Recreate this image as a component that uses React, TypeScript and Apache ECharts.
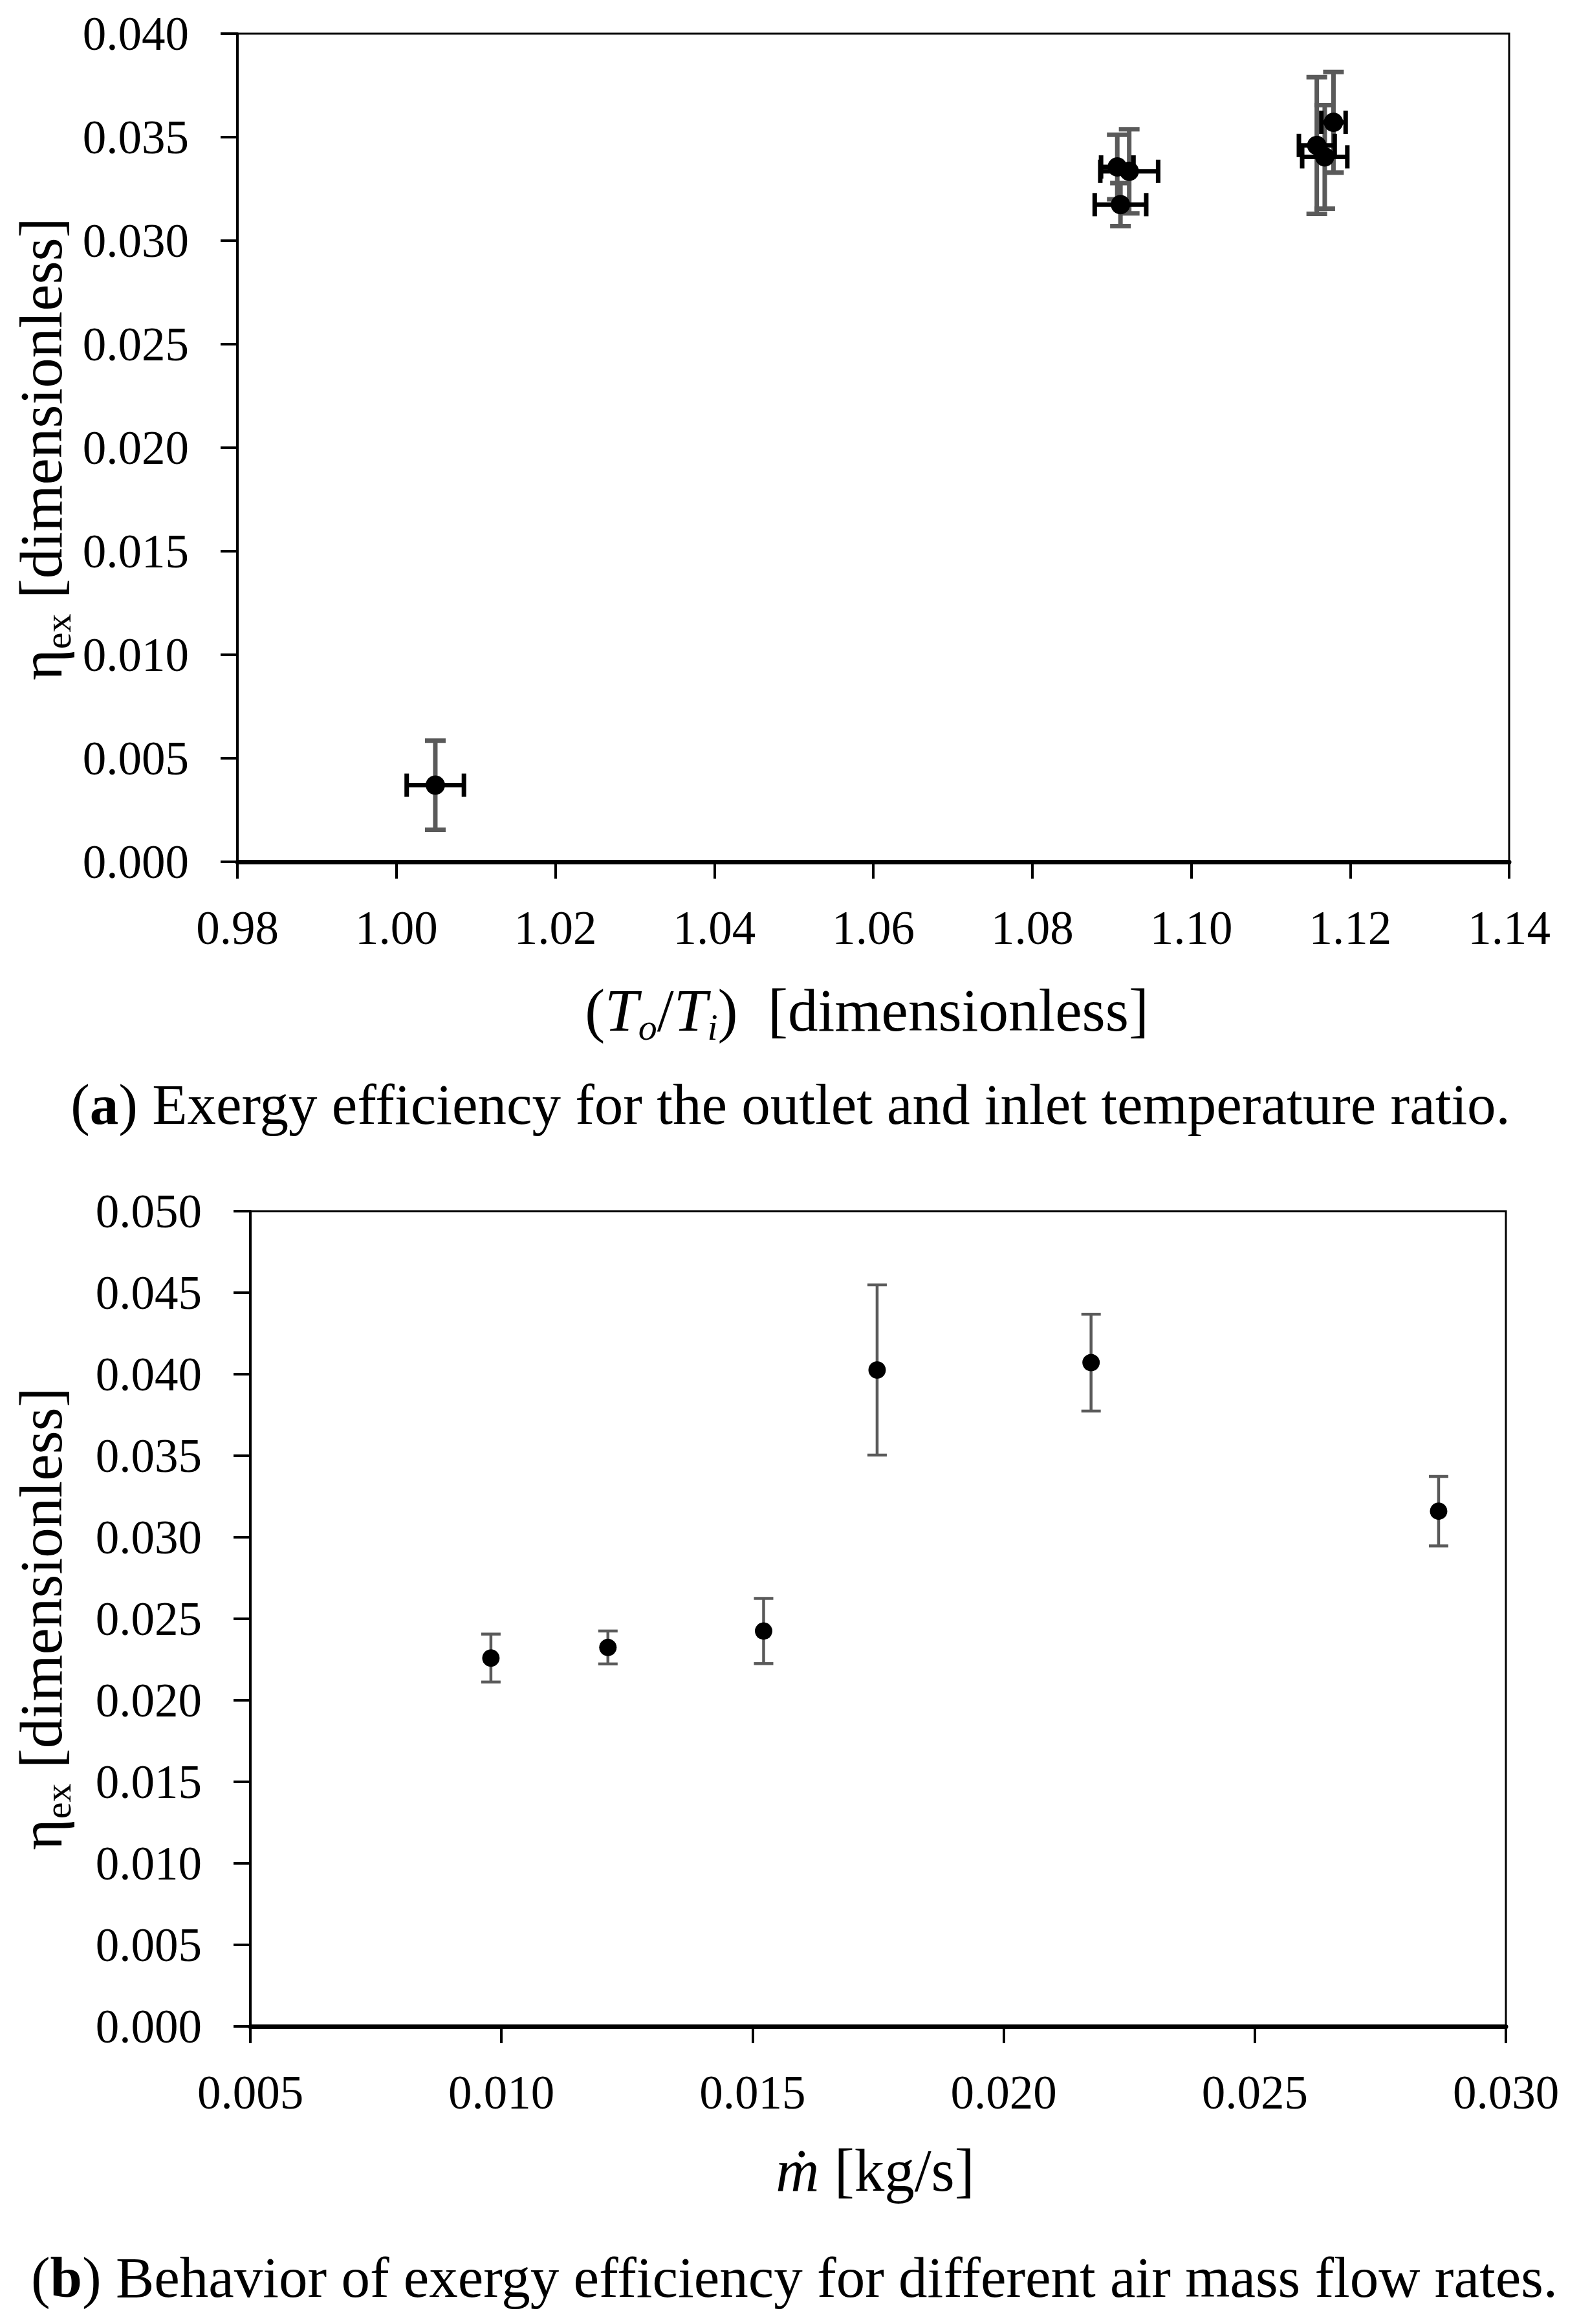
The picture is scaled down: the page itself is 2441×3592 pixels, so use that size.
import React, { useEffect, useRef } from "react";
import * as echarts from "echarts";

// ---------- Data: chart (a) ----------
const tempRatio = [1.0049, 1.0907, 1.0922, 1.0911, 1.1158, 1.1168, 1.1179];
const exergyEffA = [0.0037, 0.03356, 0.03335, 0.03174, 0.0346, 0.03405, 0.03572];
const exergyErrA = [0.00215, 0.00156, 0.00203, 0.00104, 0.0033, 0.0025, 0.00243];
const ratioErrA = [0.0036, 0.00204, 0.00364, 0.00324, 0.00225, 0.00284, 0.00153];

// ---------- Data: chart (b) ----------
const massFlow = [0.00979, 0.01212, 0.01522, 0.01748, 0.02174, 0.02866];
const exergyEffB = [0.02259, 0.02324, 0.02425, 0.04026, 0.04071, 0.0316];
const exergyErrB = [0.00147, 0.00101, 0.002, 0.00522, 0.00297, 0.00213];

// ---------- Axis settings ----------
const xTicksA = { min: 0.98, max: 1.14, interval: 0.02, digits: 2 };
const yTicksA = { min: 0, max: 0.04, interval: 0.005, digits: 3 };
const xTicksB = { min: 0.005, max: 0.03, interval: 0.005, digits: 3 };
const yTicksB = { min: 0, max: 0.05, interval: 0.005, digits: 3 };

const captionA = "(a) Exergy efficiency for the outlet and inlet temperature ratio.";
const captionB = "(b) Behavior of exergy efficiency for different air mass flow rates.";

const FONT = '"Liberation Serif", "Times New Roman", serif';
const GRAY = "#5a5a5a";

function vErrSeries(xi: number, xs: number[], ys: number[], es: number[], lw: number, cap: number) {
  return {
    type: "custom",
    xAxisIndex: xi,
    yAxisIndex: xi,
    z: 2,
    silent: true,
    encode: { x: 0, y: 1 },
    data: xs.map((x, i) => [x, ys[i], es[i]]),
    renderItem: (params: any, api: any) => {
      const x = api.value(0);
      const y = api.value(1);
      const e = api.value(2);
      const t = api.coord([x, y + e]);
      const b = api.coord([x, y - e]);
      const st = { stroke: GRAY, lineWidth: lw, lineCap: "butt" };
      return {
        type: "group",
        children: [
          { type: "line", shape: { x1: t[0], y1: t[1], x2: b[0], y2: b[1] }, style: st },
          { type: "line", shape: { x1: t[0] - cap, y1: t[1], x2: t[0] + cap, y2: t[1] }, style: st },
          { type: "line", shape: { x1: b[0] - cap, y1: b[1], x2: b[0] + cap, y2: b[1] }, style: st },
        ],
      };
    },
  };
}

function hErrSeries(xi: number, xs: number[], ys: number[], es: number[], lw: number, cap: number) {
  return {
    type: "custom",
    xAxisIndex: xi,
    yAxisIndex: xi,
    z: 3,
    silent: true,
    encode: { x: 0, y: 1 },
    data: xs.map((x, i) => [x, ys[i], es[i]]),
    renderItem: (params: any, api: any) => {
      const x = api.value(0);
      const y = api.value(1);
      const e = api.value(2);
      const l = api.coord([x - e, y]);
      const r = api.coord([x + e, y]);
      const st = { stroke: "#000", lineWidth: lw, lineCap: "butt" };
      return {
        type: "group",
        children: [
          { type: "line", shape: { x1: l[0], y1: l[1], x2: r[0], y2: r[1] }, style: st },
          { type: "line", shape: { x1: l[0], y1: l[1] - cap, x2: l[0], y2: l[1] + cap }, style: st },
          { type: "line", shape: { x1: r[0], y1: r[1] - cap, x2: r[0], y2: r[1] + cap }, style: st },
        ],
      };
    },
  };
}

function valueAxis(gi: number, t: any, isX: boolean) {
  return {
    type: "value",
    gridIndex: gi,
    min: t.min,
    max: t.max,
    interval: t.interval,
    splitLine: { show: false },
    axisLine: { show: true, onZero: false, lineStyle: { color: "#000", width: isX ? 7 : 4 } },
    axisTick: { show: true, inside: false, length: 26, lineStyle: { color: "#000", width: 4 } },
    axisLabel: {
      show: true,
      margin: isX ? 66 : 75,
      color: "#000",
      fontFamily: FONT,
      fontSize: 73,
      formatter: (v: number) => v.toFixed(t.digits),
    },
  };
}

const subStyle = { fontFamily: FONT, fontSize: 58, lineHeight: 61, verticalAlign: "bottom", fill: "#000" };
const mainStyle = { fontFamily: FONT, fontSize: 93, lineHeight: 110, fill: "#000" };
const itStyle = { ...mainStyle, fontStyle: "italic" };
const subIt = { ...subStyle, fontStyle: "italic" };

function titleText(x: number, y: number, text: string, rotation = 0) {
  return {
    type: "text",
    x,
    y,
    rotation,
    silent: true,
    style: {
      text,
      fontFamily: FONT,
      fontSize: 93,
      lineHeight: 110,
      fill: "#000",
      align: "center",
      verticalAlign: "middle",
      rich: { m: mainStyle, it: itStyle, sub: subStyle, subi: subIt },
    },
  };
}

function captionText(x: number, y: number, text: string) {
  const letter = text.charAt(1);
  const rest = text.slice(3);
  return {
    type: "text",
    x,
    y,
    silent: true,
    style: {
      text: "{m|(}{b|" + letter + "}{m|)" + rest + "}",
      fontFamily: FONT,
      fontSize: 89,
      lineHeight: 100,
      fill: "#000",
      align: "center",
      verticalAlign: "middle",
      rich: {
        m: { fontFamily: FONT, fontSize: 89, lineHeight: 100, fill: "#000" },
        b: { fontFamily: FONT, fontSize: 89, lineHeight: 100, fontWeight: "bold", fill: "#000" },
      },
    },
  };
}

export default function App() {
  const ref = useRef<HTMLDivElement>(null);

  useEffect(() => {
    document.body.style.margin = "0";
    if (!ref.current) return;
    const chart = echarts.init(ref.current, undefined, { renderer: "svg" });
    const option: any = {
      animation: false,
      backgroundColor: "#fff",
      grid: [
        { left: 367, top: 52, width: 1966, height: 1280, show: true, borderColor: "#000", borderWidth: 3, backgroundColor: "transparent" },
        { left: 387, top: 1872, width: 1941, height: 1260, show: true, borderColor: "#000", borderWidth: 3, backgroundColor: "transparent" },
      ],
      xAxis: [valueAxis(0, xTicksA, true), valueAxis(1, xTicksB, true)],
      yAxis: [valueAxis(0, yTicksA, false), valueAxis(1, yTicksB, false)],
      series: [
        vErrSeries(0, tempRatio, exergyEffA, exergyErrA, 7, 16),
        hErrSeries(0, tempRatio, exergyEffA, ratioErrA, 7, 18),
        {
          type: "scatter",
          xAxisIndex: 0,
          yAxisIndex: 0,
          z: 4,
          silent: true,
          symbol: "circle",
          symbolSize: 30,
          itemStyle: { color: "#000", opacity: 1 },
          data: tempRatio.map((x, i) => [x, exergyEffA[i]]),
        },
        vErrSeries(1, massFlow, exergyEffB, exergyErrB, 4.5, 15),
        {
          type: "scatter",
          xAxisIndex: 1,
          yAxisIndex: 1,
          z: 4,
          silent: true,
          symbol: "circle",
          symbolSize: 27,
          itemStyle: { color: "#000", opacity: 1 },
          data: massFlow.map((x, i) => [x, exergyEffB[i]]),
        },
      ],
      graphic: [
        titleText(63, 694, "{m|η}{sub|ex}{m| [dimensionless]}", Math.PI / 2),
        titleText(1340, 1561, "{m|(}{it|T}{subi|o}{m|/}{it|T}{subi|i}{m|)  [dimensionless]}"),
        captionText(1222, 1707, captionA),
        titleText(63, 2502, "{m|η}{sub|ex}{m| [dimensionless]}", Math.PI / 2),
        titleText(1353, 3354, "{it|ṁ}{m| [kg/s]}"),
        captionText(1228, 3520, captionB),
      ],
    };
    chart.setOption(option);
    return () => chart.dispose();
  }, []);

  return (
    <div
      ref={ref}
      style={{ position: "absolute", left: 0, top: 0, width: 2441, height: 3592, background: "#fff" }}
    />
  );
}
